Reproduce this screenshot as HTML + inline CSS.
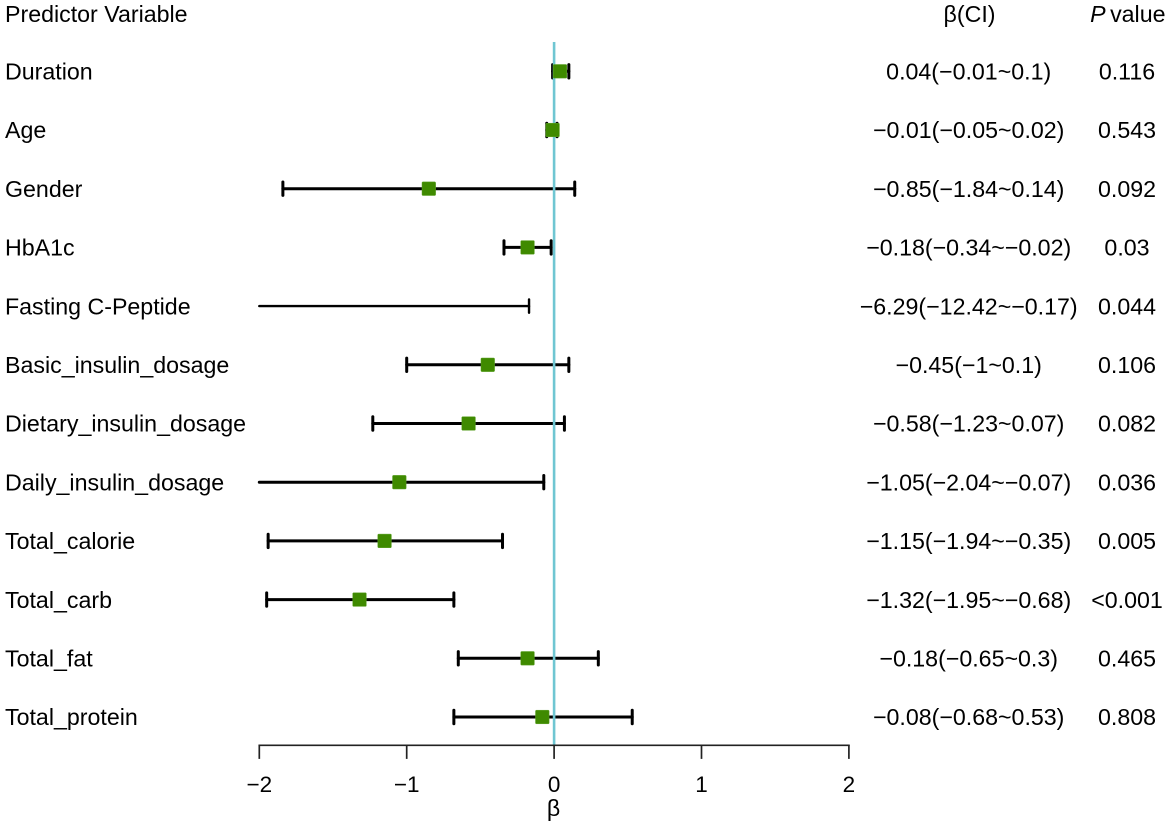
<!DOCTYPE html>
<html lang="en">
<head>
<meta charset="utf-8">
<title>Forest plot of predictors</title>
<style>
html,body{margin:0;padding:0;background:#fff}
svg{display:block;font-family:"Liberation Sans",Arial,sans-serif;fill:#000}
text{font-size:23.2px}
text.tick{font-size:22.5px}
</style>
</head>
<body>
<svg id="chart" width="1170" height="825" viewBox="0 0 1170 825" xmlns="http://www.w3.org/2000/svg">
<rect width="1170" height="825" fill="#fff"/>
<text x="5" y="22">Predictor Variable</text>
<text x="969.5" y="22" text-anchor="middle">β(CI)</text>
<text x="1165.5" y="22" text-anchor="end" word-spacing="-2"><tspan font-style="italic">P</tspan> value</text>
<text x="553.5" y="816" text-anchor="middle">β</text>
</svg>
<script>
const predictors = ["Duration","Age","Gender","HbA1c","Fasting C-Peptide","Basic_insulin_dosage","Dietary_insulin_dosage","Daily_insulin_dosage","Total_calorie","Total_carb","Total_fat","Total_protein"];
const betas = [0.04,-0.01,-0.85,-0.18,-6.29,-0.45,-0.58,-1.05,-1.15,-1.32,-0.18,-0.08];
const ciLower = [-0.01,-0.05,-1.84,-0.34,-12.42,-1,-1.23,-2.04,-1.94,-1.95,-0.65,-0.68];
const ciUpper = [0.1,0.02,0.14,-0.02,-0.17,0.1,0.07,-0.07,-0.35,-0.68,0.3,0.53];
const ciLabels = ["0.04(−0.01~0.1)","−0.01(−0.05~0.02)","−0.85(−1.84~0.14)","−0.18(−0.34~−0.02)","−6.29(−12.42~−0.17)","−0.45(−1~0.1)","−0.58(−1.23~0.07)","−1.05(−2.04~−0.07)","−1.15(−1.94~−0.35)","−1.32(−1.95~−0.68)","−0.18(−0.65~0.3)","−0.08(−0.68~0.53)"];
const pLabels = ["0.116","0.543","0.092","0.03","0.044","0.106","0.082","0.036","0.005","<0.001","0.465","0.808"];
const xTicks = [-2,-1,0,1,2];

const svg = document.getElementById('chart');
const NS = 'http://www.w3.org/2000/svg';
const domainMin = -2, domainMax = 2;
const xScale = v => 259.3 + (v - domainMin) * 147.4;
const yScale = i => 71.3 + i * 58.7;
const axisY = 745.3;

function make(tag, props, text) {
  const el = document.createElementNS(NS, tag);
  for (const k in props) el.setAttribute(k, props[k]);
  if (text !== undefined) el.textContent = text;
  svg.appendChild(el);
  return el;
}
const fmt = v => String(v).replace('-', '−');

predictors.forEach((name, i) => {
  const y = yScale(i);
  const label = make('text', {x: 5, y: y + 8.2}, name);
  
  
  const ci = make('text', {x: 968.7, y: y + 8.2, 'text-anchor': 'middle'}, ciLabels[i]);
  
  
  const p = make('text', {x: 1127, y: y + 8.2, 'text-anchor': 'middle'}, pLabels[i]);
  
  

  const lo = Math.max(ciLower[i], domainMin);
  const hi = Math.min(ciUpper[i], domainMax);
  const line = make('line', {x1: xScale(lo), x2: xScale(hi), y1: y, y2: y, stroke: '#000', 'stroke-width': betas[i] < domainMin ? 2.4 : 3, 'stroke-linecap': 'round'});
  
  
  if (ciLower[i] >= domainMin) {
    const capL = make('line', {x1: xScale(lo), x2: xScale(lo), y1: y - 6.7, y2: y + 6.7, stroke: '#000', 'stroke-width': 3, 'stroke-linecap': 'round'});
    
    
  }
  if (ciUpper[i] <= domainMax) {
    const capR = make('line', {x1: xScale(hi), x2: xScale(hi), y1: y - 6.7, y2: y + 6.7, stroke: '#000', 'stroke-width': betas[i] < domainMin ? 2.4 : 3, 'stroke-linecap': 'round'});
    
    
  }
});

const refLine = make('line', {x1: xScale(0), x2: xScale(0), y1: 42, y2: axisY, stroke: '#6fc6d2', 'stroke-width': 2.6});



predictors.forEach((name, i) => {
  if (betas[i] < domainMin || betas[i] > domainMax) return;
  const pt = make('rect', {x: xScale(betas[i]) - 6.8, y: yScale(i) - 6.8, width: 13.6, height: 13.6, rx: 0.8, fill: '#3f8a00', stroke: '#5ea32a', 'stroke-width': 0.5});
  
  
});

const axisLine = make('line', {x1: xScale(xTicks[0]) - 0.85, x2: xScale(xTicks[xTicks.length - 1]) + 0.85, y1: axisY, y2: axisY, stroke: '#222', 'stroke-width': 1.7});


xTicks.forEach(t => {
  const tick = make('line', {x1: xScale(t), x2: xScale(t), y1: axisY, y2: axisY + 13.6, stroke: '#222', 'stroke-width': 1.7});
  
  
  const tl = make('text', {class: 'tick', x: xScale(t), y: 792, 'text-anchor': 'middle'}, fmt(t));
  
  
});
</script>
</body>
</html>
